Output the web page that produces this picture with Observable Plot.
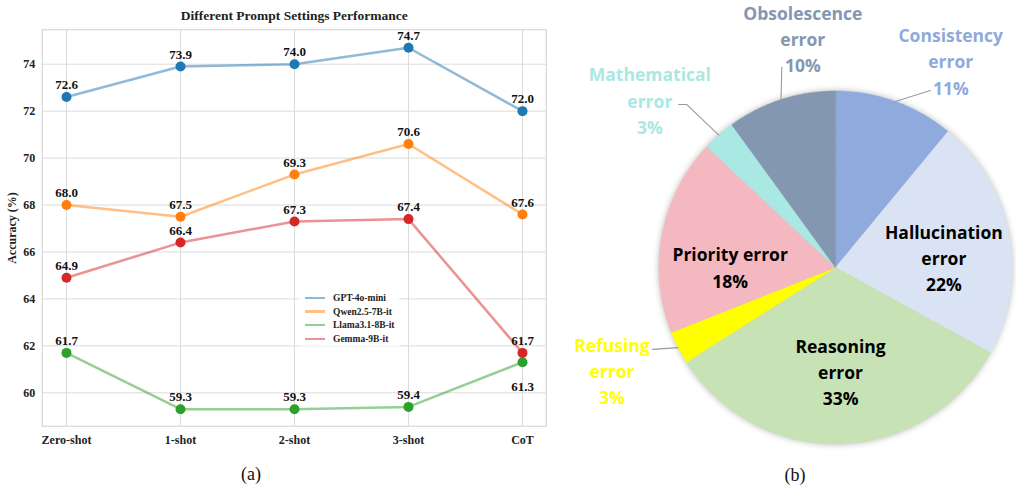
<!DOCTYPE html>
<html><head><meta charset="utf-8">
<script src="https://cdn.jsdelivr.net/npm/d3@7"></script>
<script src="https://cdn.jsdelivr.net/npm/@observablehq/plot@0.6"></script>
<style>
body{margin:0;background:#fff;}
#wrap{position:relative;width:1016px;height:485px;overflow:hidden;background:#fff;}
#lineChart,#pieChart{position:absolute;top:0;}
#lineChart{left:0;}
#pieChart{left:540px;}
.cap{position:absolute;font-family:"Liberation Serif",serif;font-size:18px;color:#111;transform:translate(-50%,-50%);}
#legend{position:absolute;left:299px;top:290px;width:100px;height:56px;background:rgba(255,255,255,0.9);font:bold 9.5px "Liberation Serif",serif;color:#222;}
.row{position:absolute;left:0;height:12px;display:flex;align-items:center;white-space:nowrap;}
.sw{width:20px;height:2.5px;margin-left:6px;margin-right:8px;opacity:0.5;}
</style></head>
<body><div id="wrap">
<div id="lineChart"></div>
<div id="pieChart"></div>
<div id="legend"></div>
<div class="cap" style="left:251px;top:474px">(a)</div>
<div class="cap" style="left:795px;top:475px">(b)</div>
</div>
<script>
// ---------- Data: panel (a) ----------
const settings = ["Zero-shot", "1-shot", "2-shot", "3-shot", "CoT"];
const models = ["GPT-4o-mini", "Qwen2.5-7B-it", "Llama3.1-8B-it", "Gemma-9B-it"];
const gpt4oMini = [72.6, 73.9, 74.0, 74.7, 72.0];
const qwen = [68.0, 67.5, 69.3, 70.6, 67.6];
const llama = [61.7, 59.3, 59.3, 59.4, 61.3];
const gemma = [64.9, 66.4, 67.3, 67.4, 61.7];
const yTicks = [60, 62, 64, 66, 68, 70, 72, 74];
const titleA = "Different Prompt Settings Performance";

// ---------- Data: panel (b) ----------
const errorTypes = ["Consistency error", "Hallucination error", "Reasoning error", "Refusing error", "Priority error", "Mathematical error", "Obsolescence error"];
const errorLabels = ["Consistency\nerror", "Hallucination\nerror", "Reasoning\nerror", "Refusing\nerror", "Priority error", "Mathematical\nerror", "Obsolescence\nerror"];
const errorShares = [11, 22, 33, 3, 18, 3, 10];

// ---------- Styles / layout ----------
const modelColors = ["#1f77b4", "#ff7f0e", "#2ca02c", "#d62728"];
const sliceColors = ["#8FAADC", "#DAE3F3", "#C7E2B4", "#FFFF00", "#F4B8C1", "#A9E8E3", "#8497B0"];
// label placement: [angle (deg, clockwise from top), radius factor]
const labelPlace = [[29.05, 1.345], [84.2, 0.617], [177.2, 0.586], [245.4, 1.393], [270.8, 0.597], [312.2, 1.42], [351.9, 1.315]];
// leader line bends (after start point on pie edge at mid-angle)
const leaderPlace = {0: [[28.2, 1.138]], 3: [[245.9, 1.136]], 5: [[317.6, 1.251], [316.1, 1.282]], 6: [[345, 1.175]]};

const serif = '"Liberation Serif", "Times New Roman", serif';

// ---------- Panel (a) ----------
const seriesVals = [gpt4oMini, qwen, llama, gemma];
const lineData = models.flatMap((m, i) => settings.map((s, j) => ({model: m, setting: s, value: seriesVals[i][j]})));
const isBelow = d => d.model === "Llama3.1-8B-it" && d.setting === "CoT";

const chartA = Plot.plot({
  width: 547, height: 455,
  marginLeft: 41.7, marginRight: 1.3, marginTop: 29.3, marginBottom: 29.3,
  style: {fontFamily: serif, fontWeight: "bold", fontSize: "12px", color: "#222", background: "white"},
  x: {type: "point", domain: settings, padding: 0.2, label: null, tickSize: 0, tickPadding: 9},
  y: {domain: [58.577, 75.466], ticks: yTicks, tickSize: 0, tickPadding: 7, label: "Accuracy (%)", labelAnchor: "center", labelArrow: "none", labelOffset: 35},
  color: {domain: models, range: modelColors},
  marks: [
    Plot.ruleX(settings, {x: d => d, stroke: "#dcdcdc", strokeWidth: 1}),
    Plot.ruleY(yTicks, {y: d => d, stroke: "#dcdcdc", strokeWidth: 1}),
    Plot.frame({stroke: "#cfcfcf", strokeWidth: 1}),
    Plot.line(lineData, {x: "setting", y: "value", stroke: "model", z: "model", strokeWidth: 2.5, strokeOpacity: 0.5}),
    Plot.dot(lineData, {x: "setting", y: "value", fill: "model", r: 5}),
    Plot.text(lineData.filter(d => !isBelow(d)), {x: "setting", y: "value", text: d => d.value.toFixed(1), dy: -12, fontSize: 13, fill: "#111"}),
    Plot.text(lineData.filter(isBelow), {x: "setting", y: "value", text: d => d.value.toFixed(1), dy: 25, fontSize: 13, fill: "#111"}),
    Plot.text([titleA], {frameAnchor: "top", lineAnchor: "middle", dy: -14, fontSize: 13.5, fill: "#222"})
  ]
});
document.getElementById("lineChart").append(chartA);

// legend (HTML)
const legend = document.getElementById("legend");
models.forEach((m, i) => {
  const row = document.createElement("div");
  row.className = "row";
  row.style.top = (2 + i * 13.6) + "px";
  row.innerHTML = `<span class="sw" style="background:${modelColors[i]}"></span><span>${m}</span>`;
  legend.append(row);
});

// ---------- Panel (b) ----------
const W = 476, H = 485, cx = 295, cy = 267, R = 176.5;
const arcs = d3.pie().sort(null).value(d => d)(errorShares);
const toXY = (deg, r) => ({x: r * Math.sin(deg * Math.PI / 180), y: r * Math.cos(deg * Math.PI / 180)});
const slicePts = arcs.flatMap((a, i) => {
  const a0 = a.startAngle * 180 / Math.PI, a1 = a.endAngle * 180 / Math.PI;
  const n = Math.max(2, Math.ceil(a1 - a0) + 1);
  const pts = [{slice: errorTypes[i], x: 0, y: 0}];
  for (let k = 0; k <= n; k++) {
    const p = toXY(a0 + (a1 - a0) * k / n, 1);
    pts.push({slice: errorTypes[i], ...p});
  }
  return pts;
});
const labelData = errorTypes.map((t, i) => ({slice: t, label: `${errorLabels[i]}\n${errorShares[i]}%`, outside: labelPlace[i][1] > 1, ...toXY(labelPlace[i][0], labelPlace[i][1])}));
const leaderData = Object.entries(leaderPlace).flatMap(([i, bends]) => {
  const a = arcs[+i];
  const mid = (a.startAngle + a.endAngle) / 2 * 180 / Math.PI;
  return [{slice: errorTypes[+i], ...toXY(mid, 1.0)}, ...bends.map(b => ({slice: errorTypes[+i], ...toXY(b[0], b[1])}))];
});

const sans = '"Open Sans", "Noto Sans", sans-serif';
const chartB = Plot.plot({
  width: W, height: H,
  margin: 0,
  style: {fontFamily: sans, background: "transparent"},
  x: {domain: [-cx / R, (W - cx) / R], axis: null},
  y: {domain: [-(H - cy) / R, cy / R], axis: null},
  color: {domain: errorTypes, range: sliceColors},
  marks: [
    Plot.line(slicePts, {x: "x", y: "y", z: "slice", fill: "slice", stroke: "slice", strokeWidth: 0.5, curve: "linear-closed"}),
    Plot.line(leaderData, {x: "x", y: "y", z: "slice", stroke: "#9a9a9a", strokeWidth: 1.1}),
    Plot.text(labelData.filter(d => d.outside), {x: "x", y: "y", text: "label", fill: "slice", fontSize: 17.5, fontWeight: "bold", lineHeight: 1.5}),
    Plot.text(labelData.filter(d => !d.outside), {x: "x", y: "y", text: "label", fill: "#000", fontSize: 17.5, fontWeight: "bold", lineHeight: 1.5})
  ]
});
document.getElementById("pieChart").append(chartB);
const sliceG = chartB.querySelector('g[aria-label="line"]');
if (sliceG) sliceG.style.filter = "drop-shadow(0px 0px 3px rgba(0,0,0,0.28))";
</script>
</body></html>
